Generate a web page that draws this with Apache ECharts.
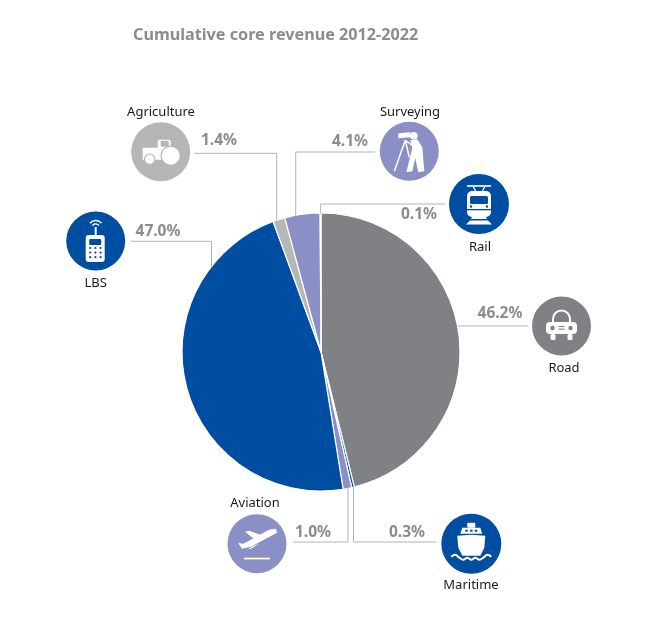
<!DOCTYPE html>
<html><head><meta charset="utf-8">
<style>html,body{margin:0;background:#fff}#c{width:661px;height:628px}</style>
<script src="https://cdn.jsdelivr.net/npm/echarts@6/dist/echarts.min.js"></script>
</head><body><div id="c"></div>
<script>
const categories = ['Road','Maritime','Aviation','LBS','Agriculture','Surveying','Rail'];
const values = [46.2,0.3,1.0,47.0,1.4,4.1,0.1];
const sliceColors = ['#808184','#004ea2','#8a90c6','#004ea2','#b5b6b8','#8a90c6','#004ea2'];
const titleText = 'Cumulative core revenue 2012-2022';

const FONT = '"Noto Sans", sans-serif';
const W = '#fff';
const layout = {
  Road:{c:[561.5,326],r:29.5,name:[564,368.5],pct:[500,314],line:[[458,326],[528,326]]},
  Maritime:{c:[471.3,543.7],r:30,name:[471,585.5],pct:[407,533],line:[[436,542],[353.5,542],[353.5,487]]},
  Aviation:{c:[257,543.7],r:29.5,name:[255,503.5],pct:[313,533],line:[[293,542],[348,542],[348,488]]},
  LBS:{c:[95.7,241],r:29.5,name:[95.7,283.5],pct:[158,232],line:[[130.7,241.3],[211.5,241.3],[211.5,267]]},
  Agriculture:{c:[160.7,151.7],r:29.5,name:[161,112.5],pct:[219,141],line:[[194,153.3],[276.7,153.3],[276.7,221]]},
  Surveying:{c:[409.3,151.3],r:29.5,name:[410,112.5],pct:[350,142],line:[[375,152],[295.7,152],[295.7,216]]},
  Rail:{c:[479,204],r:30,name:[480,247.5],pct:[419,215],line:[[445,204],[320.7,204],[320.7,214]]}
};
const Z = 11;
const rect=(x,y,w,h,r,fill)=>({type:'rect',z:Z,shape:{x,y,width:w,height:h,r:r||0},style:{fill:fill||W}});
const circ=(cx,cy,r,fill,stroke,lw)=>({type:'circle',z:Z,shape:{cx,cy,r},style:{fill:fill||W,stroke:stroke||null,lineWidth:lw||0}});
const poly=(points,fill)=>({type:'polygon',z:Z,shape:{points},style:{fill:fill||W}});
const pl=(points,lw,smooth)=>({type:'polyline',z:Z,shape:{points,smooth:smooth||0},style:{stroke:W,lineWidth:lw||1,fill:null}});
const arc=(cx,cy,r,a0,a1,lw)=>({type:'arc',z:Z,shape:{cx,cy,r,startAngle:a0,endAngle:a1},style:{stroke:W,lineWidth:lw||1.3,fill:null}});

const glyphs = {
  Agriculture(b){return [
    rect(-3,-12,13,13,2), poly([[-18,-4],[-3,-4],[4,0],[6,8],[-18,8],[-18,-2]]),
    rect(0,-11,8,6,1,b),
    circ(10,4,9.6,W,b,1.2), circ(-11,7.5,5.2,W,b,1.1)
  ];},
  LBS(b){
    const dots=[];
    for(let r=0;r<3;r++)for(let c=0;c<3;c++)dots.push(circ(-5.5+c*5.2,7+r*4.6,1.1,b));
    return [
      rect(-10,-6,19,27,3), rect(-6.5,-2,12,6,1,b), rect(-1,-14,2,9,0),
      arc(0,-13,4,Math.PI*1.2,Math.PI*1.8,1.4), arc(0,-13,7.5,Math.PI*1.22,Math.PI*1.78,1.4), ...dots
    ];
  },
  Surveying(b){return [
    circ(4.5,-15.5,3.8), poly([[-11,-18],[1,-19],[1,-14],[-11,-13]]),
    poly([[1,-11],[8,-12],[13,-4],[15,20],[9,21],[6,7],[3,20],[-3,21],[1,5],[3,-3]]),
    pl([[-4,-11],[-15,20]],1.5), pl([[-4,-11],[0,6]],1.5), pl([[-4,-11],[3,-6]],1.5)
  ];},
  Rail(b){return [
    pl([[-12,-18],[12,-18]],1.6), pl([[-6,-18],[-3,-12]],1.2), pl([[6,-18],[3,-12]],1.2),
    rect(-12,-13,24,26,5), rect(-9,-8,18,8,1.5,b), rect(-12,5,24,1.3,0,b),
    circ(-8,2.5,1.2,b), circ(8,2.5,1.2,b),
    poly([[-7,13],[7,13],[8,15],[-8,15]]), poly([[-9,16.5],[9,16.5],[13,20.5],[-13,20.5]])
  ];},
  Road(b){return [
    {type:'arc',z:Z,shape:{cx:0,cy:-7,r:8.5,startAngle:Math.PI,endAngle:0},style:{stroke:W,lineWidth:2,fill:null}},
    rect(-9.5,-8,2,5,0), rect(7.5,-8,2,5,0),
    rect(-15.5,-4,31,12,4), rect(-11,8,5,6,1.5), rect(6,8,5,6,1.5),
    circ(-9,2,2.2,b), circ(9,2,2.2,b), rect(-3,0,6,1.1,0,b), rect(-3,2.6,6,1.1,0,b)
  ];},
  Aviation(b){return [
    poly([[19,-15],[20,-11],[-6,3],[-15,5],[-19,-1],[-14,0],[-8,-3],[12,-14]]),
    poly([[-12,-12],[-8,-13],[6,-8],[-2,-4]]), poly([[-3,2],[2,0],[-6,5],[-9,5]]),
    rect(-13,14,26,1.7,0)
  ];},
  Maritime(b){return [
    rect(-4,-21,8,5,1), poly([[-9,-16],[9,-16],[11,-10],[-11,-10]]), rect(-6,-14,2.5,2,0,b), rect(-1.2,-14,2.5,2,0,b), rect(3.5,-14,2.5,2,0,b),
    poly([[-14,-8],[0,-9],[14,-8],[13,4],[9,12],[-9,12],[-13,4]]),
    pl([[-20,13],[-16,11],[-12,14],[-8,16],[-4,14],[0,16],[4,14],[8,16],[12,14],[16,11],[20,13]],2,0.4)
  ];}
};

const g = [];
const lineColor = '#b3b4b6';
categories.forEach((name,i)=>{
  const L = layout[name];
  const iconColor = sliceColors[i];
  g.push({type:'polyline',z:10,shape:{points:L.line},style:{stroke:lineColor,lineWidth:1,fill:null}});
  g.push({type:'circle',z:10,shape:{cx:L.c[0],cy:L.c[1],r:L.r},style:{fill:iconColor}});
  g.push({type:'group',x:L.c[0],y:L.c[1],children:glyphs[name](iconColor)});
  g.push({type:'text',z:12,x:L.name[0],y:L.name[1],style:{text:name,fill:'#1a1a1a',font:'13px '+FONT,textAlign:'center',textVerticalAlign:'middle'}});
  g.push({type:'text',z:12,x:L.pct[0],y:L.pct[1],style:{text:values[i].toFixed(1)+'%',fill:'#8a8c8e',font:'bold 15.5px '+FONT,textAlign:'center',textVerticalAlign:'middle'}});
});

const chart = echarts.init(document.getElementById('c'),null,{renderer:'canvas'});
chart.setOption({
  animation:false,
  backgroundColor:'#fff',
  title:{text:titleText,left:133,top:27,padding:0,textStyle:{fontFamily:FONT,fontSize:16.2,fontWeight:'bold',color:'#8a8c8e'}},
  series:[{type:'pie',center:[321,352],radius:[0,139],startAngle:90,clockwise:true,silent:true,minAngle:0,
    label:{show:false},labelLine:{show:false},
    itemStyle:{borderColor:'#fff',borderWidth:1.2},
    data:categories.map((n,i)=>({name:n,value:values[i],itemStyle:{color:sliceColors[i]}}))}],
  graphic:{elements:g}
});
</script></body></html>
